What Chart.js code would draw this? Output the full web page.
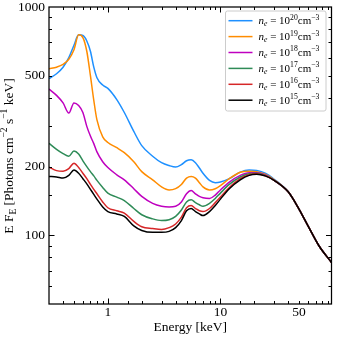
<!DOCTYPE html>
<html><head><meta charset="utf-8">
<script src="https://cdn.jsdelivr.net/npm/chart.js@4.4.0/dist/chart.umd.min.js"></script>
<style>html,body{margin:0;padding:0;background:#fff;}#wrap{width:342px;height:342px;}</style>
</head><body><div id="wrap"><canvas id="c" width="342" height="342"></canvas></div>
<script>
// ---- data ----
const energies = [0.3,0.35,0.4,0.45,0.5,0.55,0.6,0.65,0.7,0.75,0.8,0.9,1.0,1.2,1.4,1.7,2.0,2.5,3.0,3.5,4.0,4.5,5.0,5.5,6.0,6.5,7.0,8.0,9.0,10,12,15,18,21,25,30,40,50,60,75,97];
const ne20 = [485,510,545,600,680,755,750,710,640,545,490,455,440,393,345,285,247,222,208,202,199,204,212,214,208,197,187,174,170,171,177,189,193,192,187,176,155,130,110,90,76];
const ne19 = [537,545,560,590,650,755,735,640,500,390,320,270,255,242,230,210,190,175,163,158,160,167,178,181,178,170,163,158,160,165,177,189,191,190,185,175,155,130,110,90,76];
const ne18 = [437,410,380,343,380,370,345,300,272,252,232,210,198,184,175,160,148,138,134,133,134,140,152,157,152,148,146,145,150,158,171,183,188,188,184,174,155,130,110,90,76];
const ne17 = [253,238,228,222,234,227,212,200,190,182,174,162,153,147,142,131,123,118,116,117,121,129,140,143,139,136,134,138,145,153,167,180,186,187,183,174,155,130,110,90,76];
const ne16 = [199,192,191,196,207,198,187,177,167,159,152,140,132,128,125,115,109,107,106,108,112,120,132,135,131,128,127,131,139,147,162,177,184,186,182,174,155,130,110,90,76];
const ne15 = [181,180,178,183,193,187,177,168,159,151,144,133,127,124,121,110,105,103,103,104,108,116,128,131,127,124,122,127,135,144,160,175,183,185,182,174,155,130,110,90,76];
const exponents = ['20','19','18','17','16','15'];
const seriesLabels = ['nₑ = 10²⁰cm⁻³','nₑ = 10¹⁹cm⁻³','nₑ = 10¹⁸cm⁻³','nₑ = 10¹⁷cm⁻³','nₑ = 10¹⁶cm⁻³','nₑ = 10¹⁵cm⁻³'];
const xTickLabels = [1,10,50];
const yTickLabels = [100,200,500,1000];
const xLabel = 'Energy [keV]';

// ---- styles ----
const seriesColors = ['#1E90FF','#FF8C00','#BF00BF','#2E8B57','#D62728','#000000'];
const SERIF = '"Liberation Serif","Times New Roman",serif';
const FS = 13.5;

const allSeries = [ne20, ne19, ne18, ne17, ne16, ne15];
const datasets = allSeries.map((arr, k) => ({
  label: seriesLabels[k],
  data: energies.map((e, i) => ({x: e, y: arr[i]})),
  borderColor: seriesColors[k],
  backgroundColor: seriesColors[k],
  borderWidth: 1.5,
  pointRadius: 0,
  fill: false,
  cubicInterpolationMode: 'monotone',
  order: 5 - k
}));

function near(v, list){ return list.some(t => Math.abs(v - t) < 1e-6 * t); }
function isPow10(v){ const l = Math.log10(v); return Math.abs(l - Math.round(l)) < 1e-9; }

function drawRich(ctx, x, y, segs){
  let cx = x;
  for (const s of segs){
    ctx.font = (s.italic ? 'italic ' : '') + s.size + 'px ' + SERIF;
    ctx.fillText(s.t, cx, y + (s.dy || 0));
    cx += ctx.measureText(s.t).width;
  }
  return cx - x;
}
function richWidth(ctx, segs){
  let w = 0;
  for (const s of segs){ ctx.font = (s.italic ? 'italic ' : '') + s.size + 'px ' + SERIF; w += ctx.measureText(s.t).width; }
  return w;
}

const decor = {
  id: 'decor',
  afterDraw(chart){
    const ctx = chart.ctx, a = chart.chartArea, xs = chart.scales.x, ys = chart.scales.y;
    ctx.save();
    // inward ticks on all sides
    ctx.strokeStyle = '#000'; ctx.lineWidth = 1;
    ctx.beginPath();
    xs.ticks.forEach(t => {
      const px = Math.round(xs.getPixelForValue(t.value)) + 0.5;
      if (px <= a.left + 1 || px >= a.right - 1) return;
      const L = isPow10(t.value) ? 5.5 : 3;
      ctx.moveTo(px, a.bottom); ctx.lineTo(px, a.bottom - L);
      ctx.moveTo(px, a.top); ctx.lineTo(px, a.top + L);
    });
    ys.ticks.forEach(t => {
      const py = Math.round(ys.getPixelForValue(t.value)) + 0.5;
      if (py <= a.top + 1 || py >= a.bottom - 1) return;
      const L = isPow10(t.value) ? 5.5 : 3;
      ctx.moveTo(a.left, py); ctx.lineTo(a.left + L, py);
      ctx.moveTo(a.right, py); ctx.lineTo(a.right - L, py);
    });
    ctx.stroke();
    // frame
    ctx.lineWidth = 1.25;
    ctx.strokeRect(a.left, a.top, a.right - a.left, a.bottom - a.top);

    // legend
    const bx = 225.5, by = 11, bw = 100.5, bh = 100;
    ctx.fillStyle = 'rgba(255,255,255,0.85)';
    ctx.strokeStyle = '#cccccc'; ctx.lineWidth = 1;
    ctx.beginPath();
    if (ctx.roundRect) ctx.roundRect(bx, by, bw, bh, 2); else ctx.rect(bx, by, bw, bh);
    ctx.fill(); ctx.stroke();
    const rowY = [20.7, 36.6, 52.5, 68.4, 84.3, 100.2];
    exponents.forEach((ex, k) => {
      const y = rowY[k];
      ctx.strokeStyle = seriesColors[k]; ctx.lineWidth = 1.5;
      ctx.beginPath(); ctx.moveTo(228.5, y); ctx.lineTo(252.5, y); ctx.stroke();
      ctx.fillStyle = '#000'; ctx.textBaseline = 'alphabetic'; ctx.textAlign = 'left';
      drawRich(ctx, 258.5, y + 3.5, [
        {t:'n', size:11, italic:true},
        {t:'e', size:7.7, italic:true, dy:2.2},
        {t:' = ', size:11},
        {t:'10', size:11},
        {t:ex, size:7.7, dy:-4.6},
        {t:'cm', size:11},
        {t:'\u22123', size:7.7, dy:-4.6}
      ]);
    });

    // y-axis title (rotated)
    const segs = [
      {t:'E F', size:FS},
      {t:'E', size:9.5, dy:3},
      {t:' [Photons cm', size:FS},
      {t:'\u22122', size:9.5, dy:-5.5},
      {t:' s', size:FS},
      {t:'\u22121', size:9.5, dy:-5.5},
      {t:' keV]', size:FS}
    ];
    const w = richWidth(ctx, segs);
    ctx.translate(12.5, (a.top + a.bottom) / 2 + 0.5);
    ctx.rotate(-Math.PI / 2);
    ctx.fillStyle = '#000';
    drawRich(ctx, -w / 2, 0, segs);
    ctx.restore();
  }
};

new Chart(document.getElementById('c'), {
  type: 'line',
  data: { datasets },
  options: {
    responsive: false,
    animation: false,
    devicePixelRatio: 1,
    layout: { padding: { top: 7, right: 10.5, left: 0, bottom: 0 } },
    plugins: { legend: { display: false }, tooltip: { enabled: false } },
    scales: {
      x: {
        type: 'logarithmic', min: 0.3, max: 97,
        grid: { display: false, drawTicks: false }, border: { display: false },
        ticks: { autoSkip: false, maxRotation: 0, padding: 0, color: '#000',
          font: { family: SERIF, size: FS },
          callback: (v) => near(v, xTickLabels) ? String(Math.round(v)) : '' },
        title: { display: true, text: xLabel, color: '#000', font: { family: SERIF, size: FS }, padding: { top: 0, bottom: 6 } },
        afterFit: (s) => { s.height = 38; s.paddingLeft = 0; s.paddingRight = 0; }
      },
      y: {
        type: 'logarithmic', min: 50, max: 1000,
        grid: { display: false, drawTicks: false }, border: { display: false },
        ticks: { autoSkip: false, padding: 4, color: '#000',
          font: { family: SERIF, size: FS },
          callback: (v) => near(v, yTickLabels) ? String(Math.round(v)) : '' },
        afterFit: (s) => { s.width = 49; s.paddingTop = 0; s.paddingBottom = 0; }
      }
    }
  },
  plugins: [decor]
});
</script>
</body></html>
